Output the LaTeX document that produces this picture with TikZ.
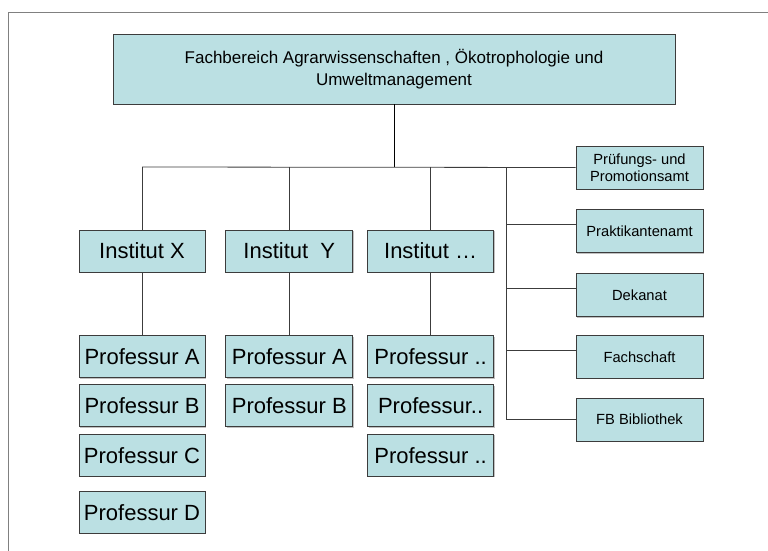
\documentclass[tikz,border=0pt]{standalone}
\usepackage{fontspec}
\setmainfont{Liberation Sans}
\usepackage{xcolor}
\usetikzlibrary{positioning, shadows}
\definecolor{boxfill}{RGB}{187,224,227}
\definecolor{boxline}{RGB}{60,60,60}
\tikzset{orgbox/.style={draw=boxline, fill=boxfill, line width=0.8pt, inner sep=0pt,
		drop shadow={shadow xshift=1pt, shadow yshift=-1pt, fill=gray!60, opacity=0.8}},
	fbbox/.style={orgbox, minimum width=562pt, minimum height=70pt, align=center, font=\fontsize{17}{22}\selectfont},
	instbox/.style={orgbox, minimum width=126pt, minimum height=42pt, font=\fontsize{22}{26}\selectfont},
	amtbox/.style={orgbox, minimum width=127pt, minimum height=43pt, align=center, font=\fontsize{14.7}{17}\selectfont},
	link/.style={draw=boxline, line width=0.8pt}}

\begin{document}
\begin{tikzpicture}[x=1pt, y=-1pt]
			\useasboundingbox (0,0) rectangle (768,551);
			\draw[gray, line width=1pt] (8,551) -- (8,13) -- (768,13);
			
			\node[fbbox] (fb) at (394,69) {\raisebox{-3pt}{Fachbereich Agrarwissenschaften , Ökotrophologie und}\\\raisebox{-3pt}{Umweltmanagement}};
			
			\node[instbox] (instx) at (142,251) {Institut X};
			\node[instbox, minimum width=127pt, right = 20pt of instx] (insty) {Institut\ \ Y};
			\node[instbox, right = 14pt of insty] (instz) {Institut …};
			
			\node[instbox, below = 63pt of instx] (xa) {Professur A};
			\node[instbox, below = 6pt of xa] (xb) {Professur B};
			\node[instbox, below = 7pt of xb] (xc) {Professur C};
			\node[instbox, below = 14pt of xc] (xd) {Professur D};
			\node[instbox, minimum width=127pt, below = 63pt of insty] (ya) {Professur A};
			\node[instbox, minimum width=127pt, below = 6pt of ya] (yb) {Professur B};
			\node[instbox, below = 63pt of instz] (za) {Professur ..};
			\node[instbox, below = 6pt of za] (zb) {Professur..};
			\node[instbox, below = 7pt of zb] (zc) {Professur ..};
			
			\node[amtbox] (pruef) at (639.5,167.5) {Prüfungs- und\\Promotionsamt};
			\node[amtbox, below = 20pt of pruef] (prakt) {Praktikantenamt};
			\node[amtbox, below = 20pt of prakt] (dekan) {Dekanat};
			\node[amtbox, below = 18pt of dekan] (fsch) {Fachschaft};
			\node[amtbox, below = 19pt of fsch] (bib) {FB Bibliothek};
			
			\coordinate (bus) at (394,167);
			\coordinate (spine) at (506,167);
			\coordinate (praktin) at ([yshift=7pt]prakt.west);
			\coordinate (dekanin) at ([yshift=7pt]dekan.west);
			\coordinate (fschin) at ([yshift=7pt]fsch.west);
			
			\draw[link, draw=black, line width=1pt] (fb) -- (bus);
			\draw[link] (instx.north |- bus) -- (pruef.west);
			\draw[link] (instx.north |- bus) -- (instx);
			\draw[link] (insty.north |- bus) -- (insty);
			\draw[link] (instz.north |- bus) -- (instz);
			\draw[link] (instx) -- (xa);
			\draw[link] (insty) -- (ya);
			\draw[link] (instz) -- (za);
			\draw[link] (spine) -- (spine |- bib.west) -- (bib.west);
			\draw[link] (spine |- praktin) -- (praktin);
			\draw[link] (spine |- dekanin) -- (dekanin);
			\draw[link] (spine |- fschin) -- (fschin);
		\end{tikzpicture}
\end{document}
